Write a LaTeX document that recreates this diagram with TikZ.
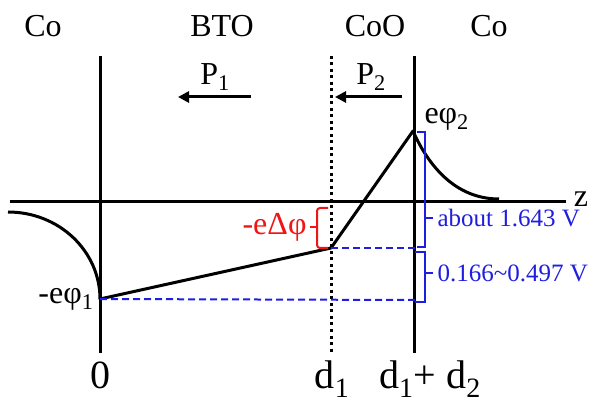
\documentclass[tikz,border=0pt]{standalone}
\usepackage{fontspec}
\setmainfont{Liberation Serif}
\usetikzlibrary{arrows.meta, positioning, calc}
\definecolor{inkblue}{HTML}{1E1EE0}
\definecolor{inkred}{HTML}{F01414}
\newcommand{\idx}[1]{\textsubscript{#1}}

\begin{document}
\begin{tikzpicture}[x=1pt, y=-1pt, font=\fontsize{32}{38}\selectfont,
    wall/.style={line width=3pt},
    profile/.style={line width=3pt, line join=round},
    guide/.style={inkblue, line width=2pt, dash pattern=on 7pt off 4pt},
    bracket/.style={inkblue, line width=2pt},
    vlabel/.style={inkblue, font=\fontsize{25}{30}\selectfont, anchor=west},
    tick/.style={anchor=base, font=\fontsize{40}{46}\selectfont},
    pol/.style={-{Triangle[length=11pt, width=11pt]}, line width=3pt}]
  \useasboundingbox (0,0) rectangle (597,403);

  \node (co1) at (43,26) {Co};
  \node (bto) at (222,26) {BTO};
  \node (coo) at (375,26) {CoO};
  \node (co2) at (489,26) {Co};

  \node (p1) at (215,77) {P\idx{1}};
  \node (p2) at (371,77) {P\idx{2}};
  \coordinate (p1s) at (251,97);
  \coordinate (p1e) at (178,97);
  \coordinate (p2s) at (402,97);
  \coordinate (p2e) at (335,97);
  \draw[pol] (p1s) -- (p1e);
  \draw[pol] (p2s) -- (p2e);

  \coordinate (w0t) at (100,56);
  \coordinate (w0b) at (100,353);
  \coordinate (w1t) at (331,56);
  \coordinate (w1b) at (331,353);
  \coordinate (w2t) at (414,56);
  \coordinate (w2b) at (414,353);
  \draw[wall] (w0t) -- (w0b);
  \draw[line width=3pt, dash pattern=on 3pt off 3.5pt] (w1t) -- (w1b);
  \draw[wall] (w2t) -- (w2b);

  \coordinate (zl) at (10,202);
  \coordinate (zr) at (566,202);
  \draw[wall] (zl) -- (zr);
  \node (z) at (581,199) {z};

  \coordinate (far1) at (8,212);
  \coordinate (phi1) at (100,299);
  \coordinate (kink) at (331,248);
  \coordinate (phi2) at (413,131);
  \coordinate (far2) at (499,199);
  \draw[profile] (far1) .. controls (59,212) and (100,251) .. (phi1)
    -- (kink) -- (phi2) .. controls (428,165) and (455,199) .. (far2);

  \coordinate (g1) at (415,300);
  \coordinate (g2) at (415,248);
  \draw[guide] (phi1) -- (g1);
  \draw[guide] (kink) -- (g2);

  \node[anchor=east] (ephi1) at (97,299) {-eφ\idx{1}};
  \node[anchor=west] (ephi2) at (421,119) {eφ\idx{2}};

  \draw[bracket] (417,132) -- (425,132) -- (425,247) -- (417,247);
  \draw[bracket] (425,218) -- (433,218) coordinate (tipa);
  \draw[bracket] (415,252) -- (425,252) -- (425,302) -- (415,302);
  \draw[bracket] (425,273) -- (433,273) coordinate (tipb);
  \node[vlabel, right=1pt of tipa] (about) {about 1.643 V};
  \node[vlabel, right=1pt of tipb] (range) {0.166\textasciitilde0.497 V};

  \draw[inkred, line width=2pt, rounded corners=3pt]
    (328,208) -- (317,208) -- (317,248) -- (328,248);
  \draw[inkred, line width=2pt] (317,227) -- (310,227) coordinate (tipr);
  \node[inkred, anchor=east] (dphi) at (tipr) {-eΔφ};

  \node[tick] (x0) at (100,388) {0};
  \node[tick] (xd1) at (332,388) {d\idx{1}};
  \node[tick] (xd12) at (430,388) {d\idx{1}+ d\idx{2}};
\end{tikzpicture}
\end{document}
